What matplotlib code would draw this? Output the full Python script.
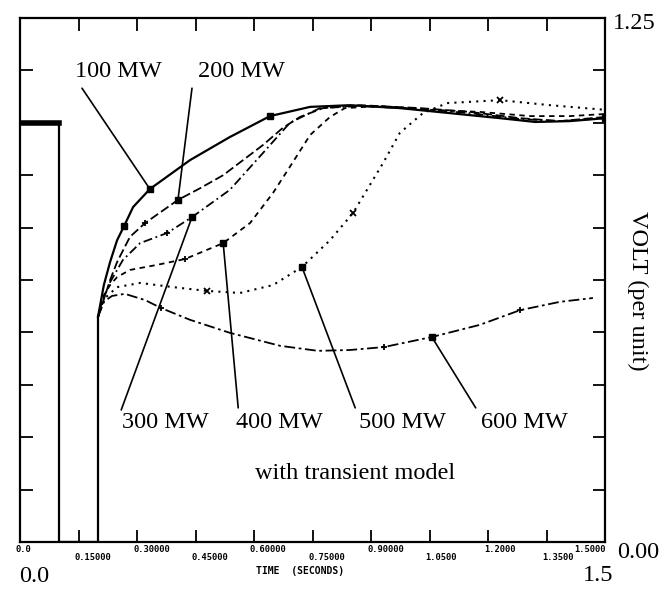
from matplotlib import pyplot as plt
import numpy as np

# pre-fault / fault section shared by all cases
t_pre = [0.0, 0.1, 0.1, 0.2, 0.2]
v_pre = [1.0, 1.0, 0.0, 0.0, 0.537]

# recovery curves (time s, volt pu)
t_100 = [0.200, 0.215, 0.231, 0.249, 0.267, 0.290, 0.333, 0.436, 0.538, 0.641,
         0.744, 0.846, 0.974, 1.103, 1.231, 1.321, 1.410, 1.500]
v_100 = [0.537, 0.613, 0.668, 0.720, 0.754, 0.799, 0.842, 0.911, 0.966, 1.016,
         1.038, 1.042, 1.035, 1.023, 1.011, 1.002, 1.004, 1.011]

t_200 = [0.200, 0.210, 0.231, 0.249, 0.282, 0.321, 0.405, 0.462, 0.521, 0.572,
         0.623, 0.674, 0.718, 0.777, 0.872, 1.026, 1.154, 1.282, 1.385, 1.500]
v_200 = [0.537, 0.565, 0.625, 0.668, 0.728, 0.761, 0.816, 0.844, 0.875, 0.911,
         0.947, 0.988, 1.014, 1.035, 1.042, 1.035, 1.026, 1.011, 1.004, 1.014]

t_300 = [0.200, 0.213, 0.231, 0.264, 0.308, 0.377, 0.441, 0.538, 0.623, 0.692,
         0.769, 0.872, 1.026, 1.154, 1.282, 1.385, 1.500]
v_300 = [0.537, 0.577, 0.620, 0.673, 0.713, 0.737, 0.775, 0.840, 0.928, 1.000,
         1.035, 1.040, 1.033, 1.023, 1.009, 1.004, 1.011]

t_400 = [0.200, 0.215, 0.231, 0.249, 0.282, 0.351, 0.423, 0.521, 0.590, 0.649,
         0.692, 0.744, 0.795, 0.833, 0.923, 1.051, 1.179, 1.308, 1.410, 1.500]
v_400 = [0.537, 0.589, 0.613, 0.632, 0.649, 0.661, 0.675, 0.713, 0.761, 0.833,
         0.895, 0.971, 1.014, 1.035, 1.040, 1.031, 1.026, 1.016, 1.016, 1.021]

t_500 = [0.200, 0.218, 0.249, 0.308, 0.392, 0.479, 0.564, 0.649, 0.723, 0.795,
         0.854, 0.931, 0.974, 1.033, 1.095, 1.231, 1.359, 1.500]
v_500 = [0.537, 0.582, 0.608, 0.618, 0.608, 0.599, 0.594, 0.613, 0.656, 0.720,
         0.785, 0.904, 0.976, 1.023, 1.047, 1.054, 1.042, 1.031]

t_600 = [0.200, 0.215, 0.236, 0.269, 0.321, 0.362, 0.436, 0.538, 0.667, 0.764,
         0.846, 0.933, 1.056, 1.179, 1.282, 1.385, 1.469]
v_600 = [0.537, 0.573, 0.587, 0.592, 0.577, 0.558, 0.530, 0.499, 0.468, 0.456,
         0.458, 0.465, 0.489, 0.518, 0.553, 0.573, 0.582]

x_ticks = [0.0, 0.15, 0.30, 0.45, 0.60, 0.75, 0.90, 1.05, 1.20, 1.35, 1.50]
x_labels = ["0.0", "0.15000", "0.30000", "0.45000", "0.60000", "0.75000",
            "0.90000", "1.0500", "1.2000", "1.3500", "1.5000"]
y_ticks = [0.125 * k for k in range(11)]

serif = 'Liberation Serif'
fs = 17.5

fig = plt.figure(figsize=(6.65, 5.9), dpi=100)
ax = fig.add_axes([20/665, 48/590, 585/665, 524/590])
ax.set_xlim(0, 1.5)
ax.set_ylim(0, 1.25)

ax.plot(t_pre, v_pre, color='black', lw=1.6)
ax.plot(t_pre[:2], v_pre[:2], color='black', lw=4)

curves = [
    (t_100, v_100, '-', 1.6, 's', [4, 6, 9, 17]),
    (t_200, v_200, (0, (5, 2)), 1.3, 's', [6]),
    (t_300, v_300, (0, (5, 2, 1, 2)), 1.3, 's', [6]),
    (t_400, v_400, (0, (3, 2.5)), 1.3, 's', [7]),
    (t_500, v_500, (0, (1, 2.5)), 1.5, 's', [8]),
    (t_600, v_600, (0, (6, 2, 1.5, 2)), 1.3, 's', [12]),
]
for t, v, ls, lw, mk, every in curves:
    ax.plot(t, v, color='black', ls=ls, lw=lw, marker=mk, ms=4,
            markevery=every)

# small secondary symbols along the curves
extra = [(t_200, v_200, [5], '+'), (t_300, v_300, [5], '+'),
         (t_400, v_400, [6], '+'), (t_500, v_500, [5, 10, 15], 'x'),
         (t_600, v_600, [5, 11, 14], '+')]
for t, v, idx, mk in extra:
    ax.plot([t[i] for i in idx], [v[i] for i in idx], ls='none', marker=mk,
            color='black', ms=5, mew=1.3)

# labels with leader lines
labels = [
    ("100 MW", t_100, v_100, 6, (0.168, 0.897), (0.106, 0.866)),
    ("200 MW", t_200, v_200, 6, (0.378, 0.897), (0.294, 0.866)),
    ("300 MW", t_300, v_300, 6, (0.248, 0.228), (0.173, 0.252)),
    ("400 MW", t_400, v_400, 7, (0.444, 0.228), (0.373, 0.256)),
    ("500 MW", t_500, v_500, 8, (0.653, 0.228), (0.573, 0.256)),
    ("600 MW", t_600, v_600, 12, (0.863, 0.228), (0.779, 0.256)),
]
for txt, t, v, i, tpos, lpos in labels:
    ax.text(tpos[0], tpos[1], txt, transform=ax.transAxes, ha='center',
            va='center', fontsize=fs, family=serif)
    ax.annotate('', xy=(t[i], v[i]), xytext=lpos, textcoords='axes fraction',
                arrowprops=dict(arrowstyle='-', lw=1.2, color='black',
                                shrinkA=0, shrinkB=0))

ax.text(0.573, 0.13, "with transient model", transform=ax.transAxes,
        ha='center', va='center', fontsize=fs, family=serif)

# axes frame and ticks
for s in ax.spines.values():
    s.set_linewidth(1.6)
ax.set_xticks(x_ticks)
ax.set_yticks(y_ticks)
ax.tick_params(direction='in', length=9, width=1.3, top=True, right=True,
               labelbottom=False, labelleft=False)

# staggered plotter-style tick labels
for k, (x, lab) in enumerate(zip(x_ticks, x_labels)):
    dy = -7 if k % 2 == 0 else -16
    ha = 'right' if k == len(x_ticks) - 1 else 'left'
    dx = 1 if ha == 'right' else -4
    ax.annotate(lab, xy=(x, 0), xycoords=('data', 'axes fraction'),
                xytext=(dx, dy), textcoords='offset pixels', ha=ha,
                va='center', fontsize=6.3, family='DejaVu Sans Mono',
                weight='bold')
ax.annotate("TIME  (SECONDS)", xy=(0.478, 0), xycoords='axes fraction',
            xytext=(0, -29), textcoords='offset pixels', ha='center',
            va='center', fontsize=7, family='DejaVu Sans Mono', weight='bold')

ax.text(1.014, 0.99, "1.25", transform=ax.transAxes, ha='left', va='center',
        fontsize=fs, family=serif)
ax.text(1.02, -0.02, "0.00", transform=ax.transAxes, ha='left', va='center',
        fontsize=fs, family=serif)
ax.text(0.024, -0.066, "0.0", transform=ax.transAxes, ha='center',
        va='center', fontsize=fs, family=serif)
ax.text(0.988, -0.064, "1.5", transform=ax.transAxes, ha='center',
        va='center', fontsize=fs, family=serif)
ax.text(1.056, 0.48, "VOLT (per unit)", transform=ax.transAxes, ha='center',
        va='center', rotation=270, fontsize=fs, family=serif)

plt.savefig('out.png', dpi=100)
